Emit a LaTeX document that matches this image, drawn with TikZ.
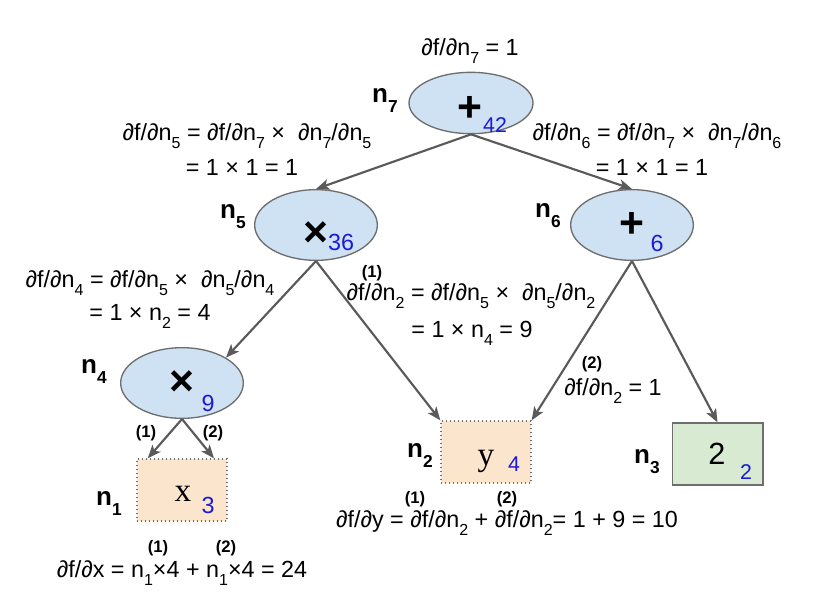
\documentclass[tikz,border=0pt]{standalone}
\usepackage{fontspec}
\setmainfont{Liberation Sans}
\newfontfamily\serifx{Liberation Serif}
\usetikzlibrary{arrows.meta,shapes.geometric,calc}
\definecolor{arr}{HTML}{5A5A5A}
\definecolor{bord}{HTML}{6E6E6E}
\definecolor{ellfill}{HTML}{CFE2F3}
\definecolor{peach}{HTML}{FCE5CD}
\definecolor{greenf}{HTML}{D9EAD3}
\definecolor{numblue}{HTML}{1A1AD8}
\newcommand\sbx[1]{\raisebox{-6.5pt}{\fontsize{12}{12}\selectfont #1}}
\newcommand\nlbl[1]{{\fontsize{19.5}{20}\selectfont\bfseries n\raisebox{-7.5pt}{\fontsize{13}{13}\selectfont\bfseries #1}}}
\begin{document}
\begin{tikzpicture}[x=0.75pt,y=-0.75pt,
  opnode/.style={ellipse, draw=bord, fill=ellfill, line width=1pt, minimum width=92pt, minimum height=53pt, inner sep=0pt},
  leafnode/.style={rectangle, draw=bord, dotted, line width=1pt, fill=peach, minimum width=67.5pt, minimum height=46.5pt, inner sep=0pt},
  constnode/.style={rectangle, draw=bord, line width=1pt, fill=greenf, minimum width=68pt, minimum height=46.5pt, inner sep=0pt},
  txt/.style={inner sep=0pt, anchor=base, font=\fontsize{17.5}{20}\selectfont},
  par/.style={inner sep=0pt, anchor=base, font=\fontsize{12.5}{14}\selectfont\bfseries},
  lab/.style={inner sep=0pt, anchor=base},
  opsym/.style={inner sep=0pt, font=\fontsize{32}{32}\selectfont\bfseries},
  numb/.style={inner sep=0pt, text=numblue, font=\fontsize{17.5}{18}\selectfont},
  numsmall/.style={inner sep=0pt, text=numblue, font=\fontsize{16}{18}\selectfont},
  var/.style={inner sep=0pt, font=\fontsize{25}{26}\selectfont\serifx},
  conn/.style={draw=arr, line width=1.6pt, -{Stealth[length=10pt,width=8pt,inset=2.5pt]}}
]
\useasboundingbox[fill=white] (0,0) rectangle (838,607);

% nodes
\node[opnode, minimum height=46pt, minimum width=93pt] (n7) at (471,103) {};
\node[opnode] (n5) at (316,225) {};
\node[opnode] (n6) at (632,225) {};
\node[opnode] (n4) at (182,383) {};
\node[leafnode] (n1) at (182,490) {};
\node[leafnode] (n2) at (486,452) {};
\node[constnode] (n3) at (717.5,454) {};

% contents
\node[opsym] (o7) at (470,109) {+};
\node[opsym] (o5) at (316,234) {×};
\node[opsym] (o6) at (632,225) {+};
\node[opsym] (o4) at (182,383) {×};
\node[numsmall] (v7) at (495,125) {42};
\node[numb] (v5) at (341,242) {36};
\node[numb] (v6) at (657,243) {6};
\node[numb] (v4) at (208,403) {9};
\node[numb] (v1) at (208,505) {3};
\node[numsmall] (v2) at (514,464) {4};
\node[numsmall] (v3) at (746,472) {2};
\node[var] (x1) at (183,494) {x};
\node[var] (y2) at (486,461) {y};
\node[inner sep=0pt, font=\fontsize{23}{24}\selectfont] (c3) at (717,454) {2};

% node labels
\node[lab] (l7) at (385,102) {\nlbl{7}};
\node[lab] (l5) at (233,218) {\nlbl{5}};
\node[lab] (l6) at (548,217) {\nlbl{6}};
\node[lab] (l4) at (94,373) {\nlbl{4}};
\node[lab] (l1) at (109,505) {\nlbl{1}};
\node[lab] (l2) at (420,457) {\nlbl{2}};
\node[lab] (l3) at (647,463) {\nlbl{3}};

% connectors
\draw[conn] (n7.south) -- (n5.north);
\draw[conn] (n7.south) -- (n6.north);
\draw[conn] (n5.south) -- (n4.30);
\draw[conn] (n5.south) -- (n2.north west);
\draw[conn] (n6.south) -- (n2.north east);
\draw[conn] (n6.south) -- (n3.north);
\draw[conn] (n4.south) -- ($(n1.north)!0.75!(n1.north west)$);
\draw[conn] (n4.south) -- ($(n1.north)!0.7!(n1.north east)$);

% gradient texts
\node[txt] (t7) at (470,55) {∂f/∂n\sbx{7} = 1};
\node[txt] (t5a) at (247,140) {∂f/∂n\sbx{5} = ∂f/∂n\sbx{7} × \ ∂n\sbx{7}/∂n\sbx{5}};
\node[txt] (t5b) at (242,175) {= 1 × 1 = 1};
\node[txt] (t6a) at (657,140) {∂f/∂n\sbx{6} = ∂f/∂n\sbx{7} × \ ∂n\sbx{7}/∂n\sbx{6}};
\node[txt] (t6b) at (652,175) {= 1 × 1 = 1};
\node[txt] (t4a) at (150,287) {∂f/∂n\sbx{4} = ∂f/∂n\sbx{5} × \ ∂n\sbx{5}/∂n\sbx{4}};
\node[txt] (t4b) at (150,320) {= 1 × n\sbx{2} = 4};
\node[par] (p1a) at (372,277) {(1)};
\node[txt] (t2a) at (471,300) {∂f/∂n\sbx{2} = ∂f/∂n\sbx{5} × \ ∂n\sbx{5}/∂n\sbx{2}};
\node[txt] (t2b) at (472,337) {= 1 × n\sbx{4} = 9};
\node[par] (p2a) at (592,368) {(2)};
\node[txt] (t2c) at (613,395) {∂f/∂n\sbx{2} = 1};
\node[par] (p1b) at (415,503) {(1)};
\node[par] (p2b) at (507,503) {(2)};
\node[txt] (ty) at (507,527) {∂f/∂y = ∂f/∂n\sbx{2} + ∂f/∂n\sbx{2}= 1 + 9 = 10};
\node[par] (p1c) at (158,552) {(1)};
\node[par] (p2c) at (226,552) {(2)};
\node[txt] (tx) at (182,577) {∂f/∂x = n\sbx{1}×4 + n\sbx{1}×4 = 24};
\node[par] (p1d) at (146,437) {(1)};
\node[par] (p2d) at (213,437) {(2)};
\end{tikzpicture}
\end{document}
